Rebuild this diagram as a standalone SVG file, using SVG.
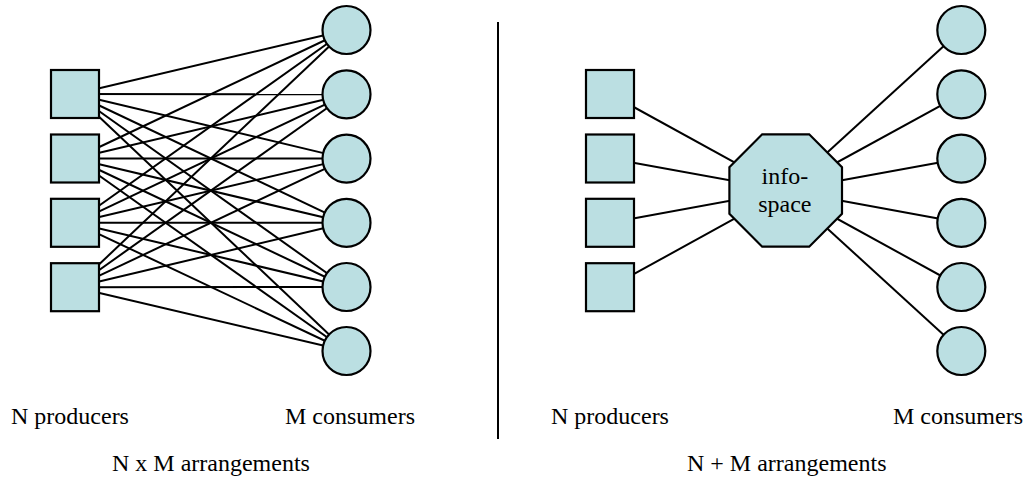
<svg xmlns="http://www.w3.org/2000/svg" width="1024" height="477" viewBox="0 0 1024 477">
<rect width="1024" height="477" fill="#fff"/>
<g id="connectors" stroke="#000" stroke-width="2">
<line x1="75" y1="94" x2="346.5" y2="30"/><line x1="75" y1="94" x2="346.5" y2="94.3"/><line x1="75" y1="94" x2="346.5" y2="158.6"/><line x1="75" y1="94" x2="346.5" y2="222.8"/><line x1="75" y1="94" x2="346.5" y2="287"/><line x1="75" y1="94" x2="346.5" y2="351"/>
<line x1="75" y1="158.5" x2="346.5" y2="30"/><line x1="75" y1="158.5" x2="346.5" y2="94.3"/><line x1="75" y1="158.5" x2="346.5" y2="158.6"/><line x1="75" y1="158.5" x2="346.5" y2="222.8"/><line x1="75" y1="158.5" x2="346.5" y2="287"/><line x1="75" y1="158.5" x2="346.5" y2="351"/>
<line x1="75" y1="222.8" x2="346.5" y2="30"/><line x1="75" y1="222.8" x2="346.5" y2="94.3"/><line x1="75" y1="222.8" x2="346.5" y2="158.6"/><line x1="75" y1="222.8" x2="346.5" y2="222.8"/><line x1="75" y1="222.8" x2="346.5" y2="287"/><line x1="75" y1="222.8" x2="346.5" y2="351"/>
<line x1="75" y1="287.2" x2="346.5" y2="30"/><line x1="75" y1="287.2" x2="346.5" y2="94.3"/><line x1="75" y1="287.2" x2="346.5" y2="158.6"/><line x1="75" y1="287.2" x2="346.5" y2="222.8"/><line x1="75" y1="287.2" x2="346.5" y2="287"/><line x1="75" y1="287.2" x2="346.5" y2="351"/>
<line x1="610" y1="94" x2="785.7" y2="190.5"/><line x1="610" y1="158.5" x2="785.7" y2="190.5"/><line x1="610" y1="222.8" x2="785.7" y2="190.5"/><line x1="610" y1="287.2" x2="785.7" y2="190.5"/>
<line x1="785.7" y1="190.5" x2="961.3" y2="30"/><line x1="785.7" y1="190.5" x2="961.3" y2="94.3"/><line x1="785.7" y1="190.5" x2="961.3" y2="158.6"/><line x1="785.7" y1="190.5" x2="961.3" y2="222.8"/><line x1="785.7" y1="190.5" x2="961.3" y2="287"/><line x1="785.7" y1="190.5" x2="961.3" y2="351"/>
</g>
<line id="divider" x1="498" y1="22" x2="498" y2="439" stroke="#000" stroke-width="2"/>
<g id="left-producers" fill="#BBDFE2" stroke="#000" stroke-width="2.2">
<g id="lp1"><rect x="51" y="70" width="48" height="48"/></g>
<g id="lp2"><rect x="51" y="134.5" width="48" height="48"/></g>
<g id="lp3"><rect x="51" y="198.8" width="48" height="48"/></g>
<g id="lp4"><rect x="51" y="263.2" width="48" height="48"/></g>
</g>
<g id="left-consumers" fill="#BBDFE2" stroke="#000" stroke-width="2.2">
<g id="lc1"><circle cx="346.5" cy="30" r="24"/></g>
<g id="lc2"><circle cx="346.5" cy="94.3" r="24"/></g>
<g id="lc3"><circle cx="346.5" cy="158.6" r="24"/></g>
<g id="lc4"><circle cx="346.5" cy="222.8" r="24"/></g>
<g id="lc5"><circle cx="346.5" cy="287" r="24"/></g>
<g id="lc6"><circle cx="346.5" cy="351" r="24"/></g>
</g>
<g id="right-producers" fill="#BBDFE2" stroke="#000" stroke-width="2.2">
<g id="rp1"><rect x="586" y="70" width="48" height="48"/></g>
<g id="rp2"><rect x="586" y="134.5" width="48" height="48"/></g>
<g id="rp3"><rect x="586" y="198.8" width="48" height="48"/></g>
<g id="rp4"><rect x="586" y="263.2" width="48" height="48"/></g>
</g>
<g id="infospace">
<polygon fill="#BBDFE2" stroke="#000" stroke-width="2.2" points="762.2,134.3 809.2,134.3 842,167.2 842,213.8 809.2,246.7 762.2,246.7 729.4,213.8 729.4,167.2"/>
<text x="784.8" y="184.3" text-anchor="middle" font-family="Times New Roman, Liberation Serif, serif" font-size="24" fill="#000">info-</text>
<text x="784.8" y="212.3" text-anchor="middle" font-family="Times New Roman, Liberation Serif, serif" font-size="24" fill="#000">space</text>
</g>
<g id="right-consumers" fill="#BBDFE2" stroke="#000" stroke-width="2.2">
<g id="rc1"><circle cx="961.3" cy="30" r="24"/></g>
<g id="rc2"><circle cx="961.3" cy="94.3" r="24"/></g>
<g id="rc3"><circle cx="961.3" cy="158.6" r="24"/></g>
<g id="rc4"><circle cx="961.3" cy="222.8" r="24"/></g>
<g id="rc5"><circle cx="961.3" cy="287" r="24"/></g>
<g id="rc6"><circle cx="961.3" cy="351" r="24"/></g>
</g>
<g id="labels">
<text x="11" y="424" font-family="Times New Roman, Liberation Serif, serif" font-size="24" fill="#000">N producers</text>
<text x="285" y="424" font-family="Times New Roman, Liberation Serif, serif" font-size="24" fill="#000">M consumers</text>
<text x="551" y="424" font-family="Times New Roman, Liberation Serif, serif" font-size="24" fill="#000">N producers</text>
<text x="893" y="424" font-family="Times New Roman, Liberation Serif, serif" font-size="24" fill="#000">M consumers</text>
<text x="112" y="471" font-family="Times New Roman, Liberation Serif, serif" font-size="24" fill="#000">N x M arrangements</text>
<text x="687" y="471" font-family="Times New Roman, Liberation Serif, serif" font-size="24" fill="#000">N + M arrangements</text>
</g>
</svg>
